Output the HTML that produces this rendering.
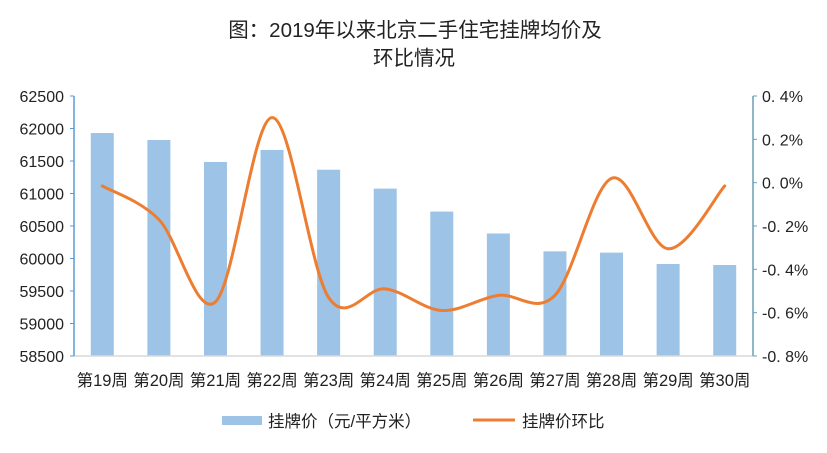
<!DOCTYPE html>
<html><head><meta charset="utf-8"><style>
body{margin:0;background:#fff;}
svg text{font-family:"Liberation Sans","Noto Sans CJK SC",sans-serif;}
</style></head><body>
<svg id="chart" width="827" height="448" viewBox="0 0 827 448" xmlns="http://www.w3.org/2000/svg">
<text x="415" y="37" text-anchor="middle" font-size="20.5" fill="#222">图：2019年以来北京二手住宅挂牌均价及</text>
<text x="414" y="65" text-anchor="middle" font-size="20.5" fill="#222">环比情况</text>
<g id="plot"></g>
<g>
<rect x="222" y="416" width="40" height="9" fill="#9dc3e6"/>
<text x="268" y="427" font-size="16.5" fill="#222">挂牌价（元/平方米）</text>
<line x1="473" y1="420" x2="515" y2="420" stroke="#ed7d31" stroke-width="3"/>
<text x="522" y="427" font-size="16.5" fill="#222">挂牌价环比</text>
</g>
</svg>
<script>
const categories=["第19周","第20周","第21周","第22周","第23周","第24周","第25周","第26周","第27周","第28周","第29周","第30周"];
const prices=[61930,61823,61485,61670,61366,61075,60722,60385,60110,60090,59915,59900];
const changes=[-0.015,-0.17,-0.55,0.30,-0.53,-0.49,-0.59,-0.52,-0.52,0.02,-0.305,-0.015];
const leftTicks=[58500,59000,59500,60000,60500,61000,61500,62000,62500];
const rightTicks=[-0.8,-0.6,-0.4,-0.2,0,0.2,0.4];
const X0=74,X1=753,YT=96,YB=356;
const NS="http://www.w3.org/2000/svg";
const g=document.getElementById('plot');
function yL(v){return YB-(v-58500)/4000*(YB-YT);}
function yR(v){return YB-(v+0.8)/1.2*(YB-YT);}
const step=(X1-X0)/categories.length;
function xC(i){return X0+step*(i+0.5);}
function mk(t,a){const e=document.createElementNS(NS,t);for(const k in a)e.setAttribute(k,a[k]);g.appendChild(e);return e;}
prices.forEach((v,i)=>{
 const r=mk('rect',{x:xC(i)-11.5,y:yL(v),width:23,height:YB-yL(v),fill:'#9dc3e6'});
 
 
});
const xa=mk('line',{x1:X0,y1:YB,x2:X1,y2:YB,stroke:'#d9d9d9','stroke-width':1.5});


const la=mk('line',{x1:X0,y1:YT,x2:X0,y2:YB,stroke:'#5b9bd5','stroke-width':1.5});


const ra=mk('line',{x1:X1,y1:YT,x2:X1,y2:YB,stroke:'#6a9fb5','stroke-width':1.5});


leftTicks.forEach(v=>{
 const y=yL(v);
 const tk=mk('line',{x1:X0-4,y1:y,x2:X0,y2:y,stroke:'#5b9bd5'});
 
 
 const t=mk('text',{x:X0-10,y:y+6,'text-anchor':'end','font-size':16,fill:'#222'});t.textContent=v;
 
 
});
rightTicks.forEach(v=>{
 const y=yR(v);
 const tk=mk('line',{x1:X1,y1:y,x2:X1+4,y2:y,stroke:'#6a9fb5'});
 
 
 const t=mk('text',{x:X1+9,y:y+6,'font-size':16,fill:'#222'});t.textContent=(v<0?'-':' ')+Math.abs(v).toFixed(1).replace('.','. ')+'%';
 
 
});
categories.forEach((c,i)=>{
 const t=mk('text',{x:xC(i),y:386,'text-anchor':'middle','font-size':16.5,fill:'#222'});t.textContent=c;
 
 
});
const pts=changes.map((v,i)=>[xC(i),yR(v)]);
let d='M'+pts[0][0]+','+pts[0][1];
for(let i=0;i<pts.length-1;i++){
 const p0=pts[Math.max(i-1,0)],p1=pts[i],p2=pts[i+1],p3=pts[Math.min(i+2,pts.length-1)];
 const c1=[p1[0]+(p2[0]-p0[0])/6,p1[1]+(p2[1]-p0[1])/6];
 const c2=[p2[0]-(p3[0]-p1[0])/6,p2[1]-(p3[1]-p1[1])/6];
 d+=` C${c1[0]},${c1[1]} ${c2[0]},${c2[1]} ${p2[0]},${p2[1]}`;
}
const ln=mk('path',{d:d,fill:'none',stroke:'#ed7d31','stroke-width':3,'stroke-linecap':'round'});


</script>
</body></html>
